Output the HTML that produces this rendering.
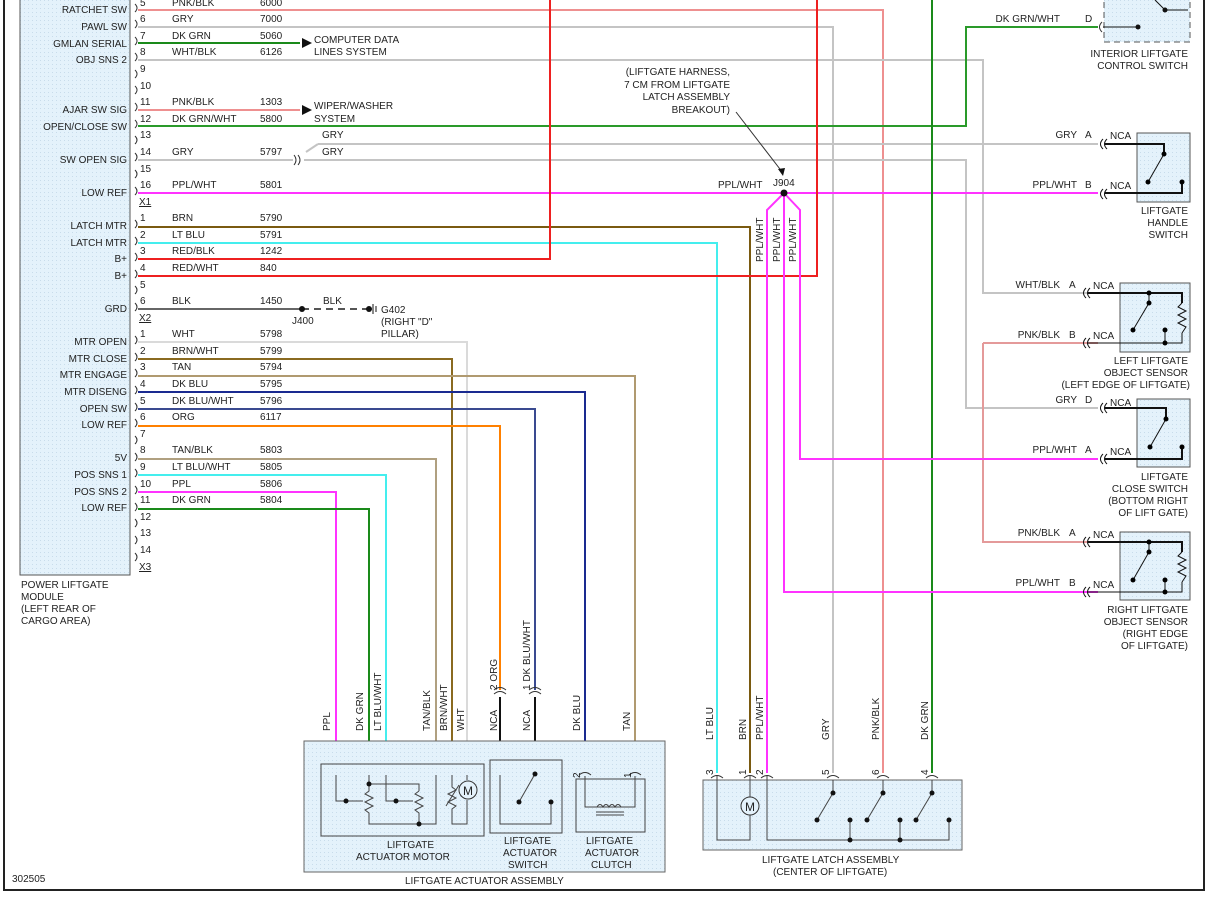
<!DOCTYPE html>
<html><head><meta charset="utf-8"><style>
html,body{margin:0;padding:0;background:#fff}
svg{display:block}
text{font-family:"Liberation Sans",sans-serif;font-size:10px;fill:#222}
.r{text-anchor:end}.m{text-anchor:middle}
</style></head><body>
<svg width="1209" height="900" viewBox="0 0 1209 900" xmlns="http://www.w3.org/2000/svg">
<defs>
<pattern id="dot" width="4" height="4" patternUnits="userSpaceOnUse"><rect width="4" height="4" fill="#e4f2fb"/><rect width="1" height="1" fill="#c8dceb"/></pattern>
</defs>
<!-- frame -->
<line x1="4" y1="0" x2="4" y2="891" stroke="#222" stroke-width="2"/>
<line x1="1204" y1="0" x2="1204" y2="891" stroke="#222" stroke-width="2"/>
<line x1="4" y1="890" x2="1204" y2="890" stroke="#222" stroke-width="2"/>
<!-- module -->
<rect x="20" y="-2" width="110" height="577" fill="url(#dot)" stroke="#555"/>
<g class="r">
<text x="127" y="13" class="r">RATCHET SW</text>
<text x="127" y="30" class="r">PAWL SW</text>
<text x="127" y="47" class="r">GMLAN SERIAL</text>
<text x="127" y="63" class="r">OBJ SNS 2</text>
<text x="127" y="113" class="r">AJAR SW SIG</text>
<text x="127" y="130" class="r">OPEN/CLOSE SW</text>
<text x="127" y="163" class="r">SW OPEN SIG</text>
<text x="127" y="196" class="r">LOW REF</text>
<text x="127" y="229" class="r">LATCH MTR</text>
<text x="127" y="246" class="r">LATCH MTR</text>
<text x="127" y="262" class="r">B+</text>
<text x="127" y="279" class="r">B+</text>
<text x="127" y="312" class="r">GRD</text>
<text x="127" y="345" class="r">MTR OPEN</text>
<text x="127" y="362" class="r">MTR CLOSE</text>
<text x="127" y="378" class="r">MTR ENGAGE</text>
<text x="127" y="395" class="r">MTR DISENG</text>
<text x="127" y="412" class="r">OPEN SW</text>
<text x="127" y="428" class="r">LOW REF</text>
<text x="127" y="461" class="r">5V</text>
<text x="127" y="478" class="r">POS SNS 1</text>
<text x="127" y="495" class="r">POS SNS 2</text>
<text x="127" y="511" class="r">LOW REF</text>
</g>
<text x="21" y="588">POWER LIFTGATE</text>
<text x="21" y="600">MODULE</text>
<text x="21" y="612">(LEFT REAR OF</text>
<text x="21" y="624">CARGO AREA)</text>
<text x="12" y="882">302505</text>
<!-- pin connector marks -->
<g fill="none" stroke="#333" stroke-width="1">
<path d="M135,4 q4,4 0,8 M135,20 q4,4 0,8 M135,37 q4,4 0,8 M135,53 q4,4 0,8 M135,70 q4,4 0,8 M135,86 q4,4 0,8 M135,103 q4,4 0,8 M135,120 q4,4 0,8 M135,136 q4,4 0,8 M135,153 q4,4 0,8 M135,170 q4,4 0,8 M135,187 q4,4 0,8"/>
<path d="M135,220 q4,4 0,8 M135,237 q4,4 0,8 M135,253 q4,4 0,8 M135,270 q4,4 0,8 M135,286 q4,4 0,8 M135,303 q4,4 0,8"/>
<path d="M135,336 q4,4 0,8 M135,353 q4,4 0,8 M135,369 q4,4 0,8 M135,386 q4,4 0,8 M135,403 q4,4 0,8 M135,419 q4,4 0,8 M135,436 q4,4 0,8 M135,453 q4,4 0,8 M135,469 q4,4 0,8 M135,486 q4,4 0,8 M135,503 q4,4 0,8 M135,519 q4,4 0,8 M135,536 q4,4 0,8 M135,553 q4,4 0,8"/>
</g>
<!-- pin numbers -->
<g>
<text x="140" y="6">5</text><text x="140" y="22">6</text><text x="140" y="39">7</text><text x="140" y="55">8</text><text x="140" y="72">9</text><text x="140" y="89">10</text><text x="140" y="105">11</text><text x="140" y="122">12</text><text x="140" y="138">13</text><text x="140" y="155">14</text><text x="140" y="172">15</text><text x="140" y="188">16</text>
<text x="139" y="205" text-decoration="underline">X1</text>
<text x="140" y="221">1</text><text x="140" y="238">2</text><text x="140" y="254">3</text><text x="140" y="271">4</text><text x="140" y="288">5</text><text x="140" y="304">6</text>
<text x="139" y="321" text-decoration="underline">X2</text>
<text x="140" y="337">1</text><text x="140" y="354">2</text><text x="140" y="370">3</text><text x="140" y="387">4</text><text x="140" y="404">5</text><text x="140" y="420">6</text><text x="140" y="437">7</text><text x="140" y="453">8</text><text x="140" y="470">9</text><text x="140" y="487">10</text><text x="140" y="503">11</text><text x="140" y="520">12</text><text x="140" y="536">13</text><text x="140" y="553">14</text>
<text x="139" y="570" text-decoration="underline">X3</text>
</g>
<!-- wire labels -->
<g>
<text x="172" y="6">PNK/BLK</text><text x="260" y="6">6000</text>
<text x="172" y="22">GRY</text><text x="260" y="22">7000</text>
<text x="172" y="39">DK GRN</text><text x="260" y="39">5060</text>
<text x="172" y="55">WHT/BLK</text><text x="260" y="55">6126</text>
<text x="172" y="105">PNK/BLK</text><text x="260" y="105">1303</text>
<text x="172" y="122">DK GRN/WHT</text><text x="260" y="122">5800</text>
<text x="172" y="155">GRY</text><text x="260" y="155">5797</text>
<text x="172" y="188">PPL/WHT</text><text x="260" y="188">5801</text>
<text x="172" y="221">BRN</text><text x="260" y="221">5790</text>
<text x="172" y="238">LT BLU</text><text x="260" y="238">5791</text>
<text x="172" y="254">RED/BLK</text><text x="260" y="254">1242</text>
<text x="172" y="271">RED/WHT</text><text x="260" y="271">840</text>
<text x="172" y="304">BLK</text><text x="260" y="304">1450</text>
<text x="172" y="337">WHT</text><text x="260" y="337">5798</text>
<text x="172" y="354">BRN/WHT</text><text x="260" y="354">5799</text>
<text x="172" y="370">TAN</text><text x="260" y="370">5794</text>
<text x="172" y="387">DK BLU</text><text x="260" y="387">5795</text>
<text x="172" y="404">DK BLU/WHT</text><text x="260" y="404">5796</text>
<text x="172" y="420">ORG</text><text x="260" y="420">6117</text>
<text x="172" y="453">TAN/BLK</text><text x="260" y="453">5803</text>
<text x="172" y="470">LT BLU/WHT</text><text x="260" y="470">5805</text>
<text x="172" y="487">PPL</text><text x="260" y="487">5806</text>
<text x="172" y="503">DK GRN</text><text x="260" y="503">5804</text>
</g>
<text x="314" y="43">COMPUTER DATA</text><text x="314" y="55">LINES SYSTEM</text>
<text x="314" y="109">WIPER/WASHER</text><text x="314" y="122">SYSTEM</text>
<text x="322" y="138">GRY</text><text x="322" y="155">GRY</text>
<text x="323" y="304">BLK</text>
<text x="292" y="324">J400</text>
<text x="381" y="313">G402</text><text x="381" y="325">(RIGHT "D"</text><text x="381" y="337">PILLAR)</text>
<g class="r"><text x="730" y="75" class="r">(LIFTGATE HARNESS,</text><text x="730" y="88" class="r">7 CM FROM LIFTGATE</text><text x="730" y="100" class="r">LATCH ASSEMBLY</text><text x="730" y="113" class="r">BREAKOUT)</text></g>
<text x="718" y="188">PPL/WHT</text><text x="773" y="186">J904</text>
<!-- WIRES -->
<g fill="none" stroke-width="2">
<polyline points="138,10 883,10 883,773" stroke="#ee9090"/>
<polyline points="138,27 833,27 833,773" stroke="#c4c4c4"/>
<polyline points="138,43 300,43" stroke="#1a8a1a"/>
<polyline points="138,60 983,60 983,293 1098,293" stroke="#c4c4c4"/>
<polyline points="138,110 300,110" stroke="#ee9090"/>
<polyline points="138,126 966,126 966,27 1098,27" stroke="#2a9a2a"/>
<polyline points="318,144 1098,144" stroke="#c4c4c4"/>
<polyline points="306,152 318,144" stroke="#c4c4c4"/>
<polyline points="138,160 293,160" stroke="#c4c4c4"/>
<polyline points="304,160 966,160 966,408 1098,408" stroke="#c4c4c4"/>
<polyline points="138,193 1098,193" stroke="#ff33ff"/>
<polyline points="138,227 750,227 750,773" stroke="#7a5a10"/>
<polyline points="138,243 717,243 717,773" stroke="#44eeee"/>
<polyline points="138,259 550,259 550,0" stroke="#ee2020"/>
<polyline points="138,276 817,276 817,0" stroke="#ee2020"/>
<polyline points="138,309 302,309" stroke="#666"/>
<polyline points="302,309 368,309" stroke="#555" stroke-dasharray="7,5"/>
<polyline points="932,0 932,773" stroke="#1a8a1a"/>
<polyline points="983,343 983,542 1098,542" stroke="#e49a9a"/>
<polyline points="1098,343 983,343" stroke="#e49a9a"/>
<polyline points="784,193 767,210 767,773" stroke="#ff33ff"/>
<polyline points="784,193 784,592 1098,592" stroke="#ff33ff"/>
<polyline points="784,193 800,210 800,459 1098,459" stroke="#ff33ff"/>
<polyline points="138,342 467,342 467,775" stroke="#dadada"/>
<polyline points="138,359 452,359 452,775" stroke="#8a6a20"/>
<polyline points="138,376 635,376 635,772" stroke="#b09a70"/>
<polyline points="138,392 585,392 585,772" stroke="#1a2a90"/>
<polyline points="138,409 535,409 535,690" stroke="#3a4a90"/>
<polyline points="138,426 500,426 500,690" stroke="#ff8000"/>
<polyline points="138,459 436,459 436,775" stroke="#b0a080"/>
<polyline points="138,475 386,475 386,775" stroke="#44eeee"/>
<polyline points="138,492 336,492 336,775" stroke="#ff33ff"/>
<polyline points="138,509 369,509 369,775" stroke="#1a8a1a"/>
<polyline points="500,697 500,775" stroke="#111"/>
<polyline points="535,697 535,775" stroke="#111"/>
</g>
<!-- arrows -->
<polygon points="302,38 312,43 302,48" fill="#111"/>
<polygon points="302,105 312,110 302,115" fill="#111"/>
<circle cx="302" cy="309" r="3" fill="#111"/>
<circle cx="369" cy="309" r="3" fill="#111"/>
<line x1="373" y1="304" x2="373" y2="314" stroke="#111"/><line x1="376" y1="306" x2="376" y2="312" stroke="#111"/>
<path d="M294,155 q4,5 0,10 M298,155 q4,5 0,10" fill="none" stroke="#333"/>
<circle cx="784" cy="193" r="3.5" fill="#111"/>
<line x1="736" y1="112" x2="783" y2="173" stroke="#333"/><polygon points="783,176 778,169 785,168" fill="#111"/>
<!-- vertical labels PPL/WHT near J904 -->
<text transform="translate(763,262) rotate(-90)">PPL/WHT</text>
<text transform="translate(780,262) rotate(-90)">PPL/WHT</text>
<text transform="translate(796,262) rotate(-90)">PPL/WHT</text>
<!-- right components -->
<rect x="1104" y="-2" width="86" height="44" fill="url(#dot)" stroke="#555" stroke-dasharray="6,4"/>
<text x="1060" y="22" class="r" style="text-anchor:end">DK GRN/WHT</text><text x="1085" y="22">D</text>
<path d="M1102,22 q-5,5 0,10" fill="none" stroke="#333"/>
<line x1="1103" y1="27" x2="1138" y2="27" stroke="#111"/><circle cx="1138" cy="27" r="2.5" fill="#111"/>
<polyline points="1165,10 1175,10 1175,10" stroke="#111"/><line x1="1155" y1="0" x2="1165" y2="10" stroke="#111"/><circle cx="1165" cy="10" r="2.5" fill="#111"/><line x1="1165" y1="10" x2="1188" y2="10" stroke="#111"/>
<text x="1188" y="57" class="r" style="text-anchor:end">INTERIOR LIFTGATE</text><text x="1188" y="69" style="text-anchor:end">CONTROL SWITCH</text>

<!-- generic connector drawer: handle switch -->
<g stroke="#111" fill="none">
<path d="M1103,139 q-5,5 0,10 M1107,139 q-5,5 0,10 M1103,189 q-5,5 0,10 M1107,189 q-5,5 0,10"/>
<path d="M1103,403 q-5,5 0,10 M1107,403 q-5,5 0,10 M1103,454 q-5,5 0,10 M1107,454 q-5,5 0,10"/>
<path d="M1086,288 q-5,5 0,10 M1090,288 q-5,5 0,10 M1086,338 q-5,5 0,10 M1090,338 q-5,5 0,10"/>
<path d="M1086,537 q-5,5 0,10 M1090,537 q-5,5 0,10 M1086,587 q-5,5 0,10 M1090,587 q-5,5 0,10"/>
</g>
<!-- handle switch -->
<rect x="1137" y="133" width="53" height="69" fill="url(#dot)" stroke="#555"/>
<text x="1077" y="138" style="text-anchor:end">GRY</text><text x="1085" y="138">A</text><text x="1110" y="139">NCA</text>
<text x="1077" y="188" style="text-anchor:end">PPL/WHT</text><text x="1085" y="188">B</text><text x="1110" y="189">NCA</text>
<g stroke="#111" fill="none"><polyline points="1105,144 1164,144 1164,154" stroke-width="2"/><polyline points="1105,193 1182,193 1182,182" stroke-width="2"/><line x1="1164" y1="154" x2="1148" y2="182"/></g>
<circle cx="1164" cy="154" r="2.5"/><circle cx="1148" cy="182" r="2.5"/><circle cx="1182" cy="182" r="2.5"/>
<text x="1188" y="214" style="text-anchor:end">LIFTGATE</text><text x="1188" y="226" style="text-anchor:end">HANDLE</text><text x="1188" y="238" style="text-anchor:end">SWITCH</text>
<!-- left object sensor -->
<rect x="1120" y="283" width="70" height="69" fill="url(#dot)" stroke="#555"/>
<text x="1060" y="288" style="text-anchor:end">WHT/BLK</text><text x="1069" y="288">A</text><text x="1093" y="289">NCA</text>
<text x="1060" y="338" style="text-anchor:end">PNK/BLK</text><text x="1069" y="338">B</text><text x="1093" y="339">NCA</text>
<g stroke="#111" fill="none"><polyline points="1088,293 1182,293 1182,303" stroke-width="2"/><polyline points="1088,343 1182,343 1182,333"/><polyline points="1149,293 1149,303 1133,330"/><line x1="1165" y1="330" x2="1165" y2="343"/><polyline points="1182,303 1178,307 1186,311 1178,315 1186,319 1178,323 1186,327 1182,333"/></g>
<circle cx="1149" cy="293" r="2.5"/><circle cx="1149" cy="303" r="2.5"/><circle cx="1133" cy="330" r="2.5"/><circle cx="1165" cy="330" r="2.5"/><circle cx="1165" cy="343" r="2.5"/>
<text x="1188" y="364" style="text-anchor:end">LEFT LIFTGATE</text><text x="1188" y="376" style="text-anchor:end">OBJECT SENSOR</text><text x="1190" y="388" style="text-anchor:end">(LEFT EDGE OF LIFTGATE)</text>
<!-- close switch -->
<rect x="1137" y="399" width="53" height="68" fill="url(#dot)" stroke="#555"/>
<text x="1077" y="403" style="text-anchor:end">GRY</text><text x="1085" y="403">D</text><text x="1110" y="406">NCA</text>
<text x="1077" y="453" style="text-anchor:end">PPL/WHT</text><text x="1085" y="453">A</text><text x="1110" y="455">NCA</text>
<g stroke="#111" fill="none"><polyline points="1105,408 1166,408 1166,419" stroke-width="2"/><polyline points="1105,459 1182,459 1182,447" stroke-width="2"/><line x1="1166" y1="419" x2="1150" y2="447"/></g>
<circle cx="1166" cy="419" r="2.5"/><circle cx="1150" cy="447" r="2.5"/><circle cx="1182" cy="447" r="2.5"/>
<text x="1188" y="480" style="text-anchor:end">LIFTGATE</text><text x="1188" y="492" style="text-anchor:end">CLOSE SWITCH</text><text x="1188" y="504" style="text-anchor:end">(BOTTOM RIGHT</text><text x="1188" y="516" style="text-anchor:end">OF LIFT GATE)</text>
<!-- right object sensor -->
<rect x="1120" y="532" width="70" height="68" fill="url(#dot)" stroke="#555"/>
<text x="1060" y="536" style="text-anchor:end">PNK/BLK</text><text x="1069" y="536">A</text><text x="1093" y="538">NCA</text>
<text x="1060" y="586" style="text-anchor:end">PPL/WHT</text><text x="1069" y="586">B</text><text x="1093" y="588">NCA</text>
<g stroke="#111" fill="none"><polyline points="1088,542 1182,542 1182,552" stroke-width="2"/><polyline points="1088,592 1182,592 1182,582"/><polyline points="1149,542 1149,552 1133,580"/><line x1="1165" y1="580" x2="1165" y2="592"/><polyline points="1182,552 1178,556 1186,560 1178,564 1186,568 1178,572 1186,576 1182,582"/></g>
<circle cx="1149" cy="542" r="2.5"/><circle cx="1149" cy="552" r="2.5"/><circle cx="1133" cy="580" r="2.5"/><circle cx="1165" cy="580" r="2.5"/><circle cx="1165" cy="592" r="2.5"/>
<text x="1188" y="613" style="text-anchor:end">RIGHT LIFTGATE</text><text x="1188" y="625" style="text-anchor:end">OBJECT SENSOR</text><text x="1188" y="637" style="text-anchor:end">(RIGHT EDGE</text><text x="1188" y="649" style="text-anchor:end">OF LIFTGATE)</text>

<!-- actuator assembly -->
<rect x="304" y="741" width="361" height="131" fill="url(#dot)" stroke="#666"/>
<rect x="321" y="764" width="163" height="72" fill="none" stroke="#444"/>
<rect x="490" y="760" width="72" height="73" fill="none" stroke="#444"/>
<rect x="576" y="779" width="69" height="53" fill="none" stroke="#444"/>
<g stroke="#444" fill="none">
<polyline points="336,775 336,801 363,801"/>
<polyline points="369,775 369,775 369,784 419,784 419,791"/>
<polyline points="369,784 369,791 365,794 373,798 365,802 373,806 365,810 369,813 369,824 436,824 436,775"/>
<polyline points="386,775 386,801 413,801"/>
<polyline points="419,791 415,794 423,798 415,802 423,806 415,810 419,813 419,824"/>
<polyline points="452,775 452,787 456,790 448,794 456,798 448,802 456,806 452,809 452,824 467,824 467,800"/>
<line x1="446" y1="806" x2="459" y2="785"/>
<line x1="467" y1="775" x2="467" y2="780"/>
<polyline points="500,775 500,824 551,824 551,802"/>
<polyline points="535,775 535,774 535,774"/>
<line x1="535" y1="774" x2="519" y2="802"/>
<polyline points="585,776 585,807 625,807 635,807 635,776"/>
<path d="M597,807 q3,-5 6,0 q3,-5 6,0 q3,-5 6,0 q3,-5 6,0"/>
<line x1="596" y1="812" x2="624" y2="812"/><line x1="596" y1="815" x2="624" y2="815"/>
</g>
<circle cx="468" cy="790" r="9" fill="#e4f2fb" stroke="#333"/><text x="468" y="795" class="m" style="font-size:12px;text-anchor:middle">M</text>
<g fill="#111"><circle cx="346" cy="801" r="2.5"/><circle cx="369" cy="784" r="2.5"/><circle cx="396" cy="801" r="2.5"/><circle cx="419" cy="824" r="2.5"/><circle cx="535" cy="774" r="2.5"/><circle cx="519" cy="802" r="2.5"/><circle cx="551" cy="802" r="2.5"/></g>
<path d="M494,690 q6,-5 12,0 M494,694 q6,-5 12,0 M529,690 q6,-5 12,0 M529,694 q6,-5 12,0 M579,775 q6,-5 12,0 M629,775 q6,-5 12,0" fill="none" stroke="#333"/>
<text x="387" y="848">LIFTGATE</text><text x="356" y="860">ACTUATOR MOTOR</text>
<text x="504" y="844">LIFTGATE</text><text x="503" y="856">ACTUATOR</text><text x="508" y="868">SWITCH</text>
<text x="586" y="844">LIFTGATE</text><text x="585" y="856">ACTUATOR</text><text x="591" y="868">CLUTCH</text>
<text x="405" y="884">LIFTGATE ACTUATOR ASSEMBLY</text>
<g>
<text transform="translate(330,731) rotate(-90)">PPL</text>
<text transform="translate(363,731) rotate(-90)">DK GRN</text>
<text transform="translate(381,731) rotate(-90)">LT BLU/WHT</text>
<text transform="translate(430,731) rotate(-90)">TAN/BLK</text>
<text transform="translate(447,731) rotate(-90)">BRN/WHT</text>
<text transform="translate(464,731) rotate(-90)">WHT</text>
<text transform="translate(497,731) rotate(-90)">NCA</text>
<text transform="translate(530,731) rotate(-90)">NCA</text>
<text transform="translate(497,690) rotate(-90)">2  ORG</text>
<text transform="translate(530,690) rotate(-90)">1  DK BLU/WHT</text>
<text transform="translate(580,731) rotate(-90)">DK BLU</text>
<text transform="translate(630,731) rotate(-90)">TAN</text>
<text transform="translate(580,778) rotate(-90)">2</text>
<text transform="translate(631,778) rotate(-90)">1</text>
</g>
<!-- latch assembly -->
<rect x="703" y="780" width="259" height="70" fill="url(#dot)" stroke="#666"/>
<g stroke="#444" fill="none">
<polyline points="717,776 717,840 750,840 750,815"/>
<line x1="750" y1="776" x2="750" y2="797"/>
<polyline points="767,776 767,840 949,840 949,820"/>
<line x1="850" y1="820" x2="850" y2="840"/><line x1="900" y1="820" x2="900" y2="840"/>
<line x1="833" y1="780" x2="833" y2="793"/><line x1="833" y1="793" x2="817" y2="820"/>
<line x1="883" y1="780" x2="883" y2="793"/><line x1="883" y1="793" x2="867" y2="820"/>
<line x1="932" y1="780" x2="932" y2="793"/><line x1="932" y1="793" x2="916" y2="820"/>
</g>
<circle cx="750" cy="806" r="9" fill="#e4f2fb" stroke="#333"/><text x="750" y="811" style="font-size:12px;text-anchor:middle">M</text>
<g fill="#111"><circle cx="833" cy="793" r="2.5"/><circle cx="817" cy="820" r="2.5"/><circle cx="850" cy="820" r="2.5"/><circle cx="850" cy="840" r="2.5"/><circle cx="883" cy="793" r="2.5"/><circle cx="867" cy="820" r="2.5"/><circle cx="900" cy="820" r="2.5"/><circle cx="900" cy="840" r="2.5"/><circle cx="932" cy="793" r="2.5"/><circle cx="916" cy="820" r="2.5"/><circle cx="949" cy="820" r="2.5"/></g>
<path d="M711,778 q6,-5 12,0 M744,778 q6,-5 12,0 M761,778 q6,-5 12,0 M827,778 q6,-5 12,0 M877,778 q6,-5 12,0 M926,778 q6,-5 12,0" fill="none" stroke="#333"/>
<g>
<text transform="translate(713,740) rotate(-90)">LT BLU</text>
<text transform="translate(746,740) rotate(-90)">BRN</text>
<text transform="translate(763,740) rotate(-90)">PPL/WHT</text>
<text transform="translate(829,740) rotate(-90)">GRY</text>
<text transform="translate(879,740) rotate(-90)">PNK/BLK</text>
<text transform="translate(928,740) rotate(-90)">DK GRN</text>
<text transform="translate(713,775) rotate(-90)">3</text>
<text transform="translate(746,775) rotate(-90)">1</text>
<text transform="translate(763,775) rotate(-90)">2</text>
<text transform="translate(829,775) rotate(-90)">5</text>
<text transform="translate(879,775) rotate(-90)">6</text>
<text transform="translate(928,775) rotate(-90)">4</text>
</g>
<text x="762" y="863">LIFTGATE LATCH ASSEMBLY</text><text x="773" y="875">(CENTER OF LIFTGATE)</text>
</svg>
</body></html>
